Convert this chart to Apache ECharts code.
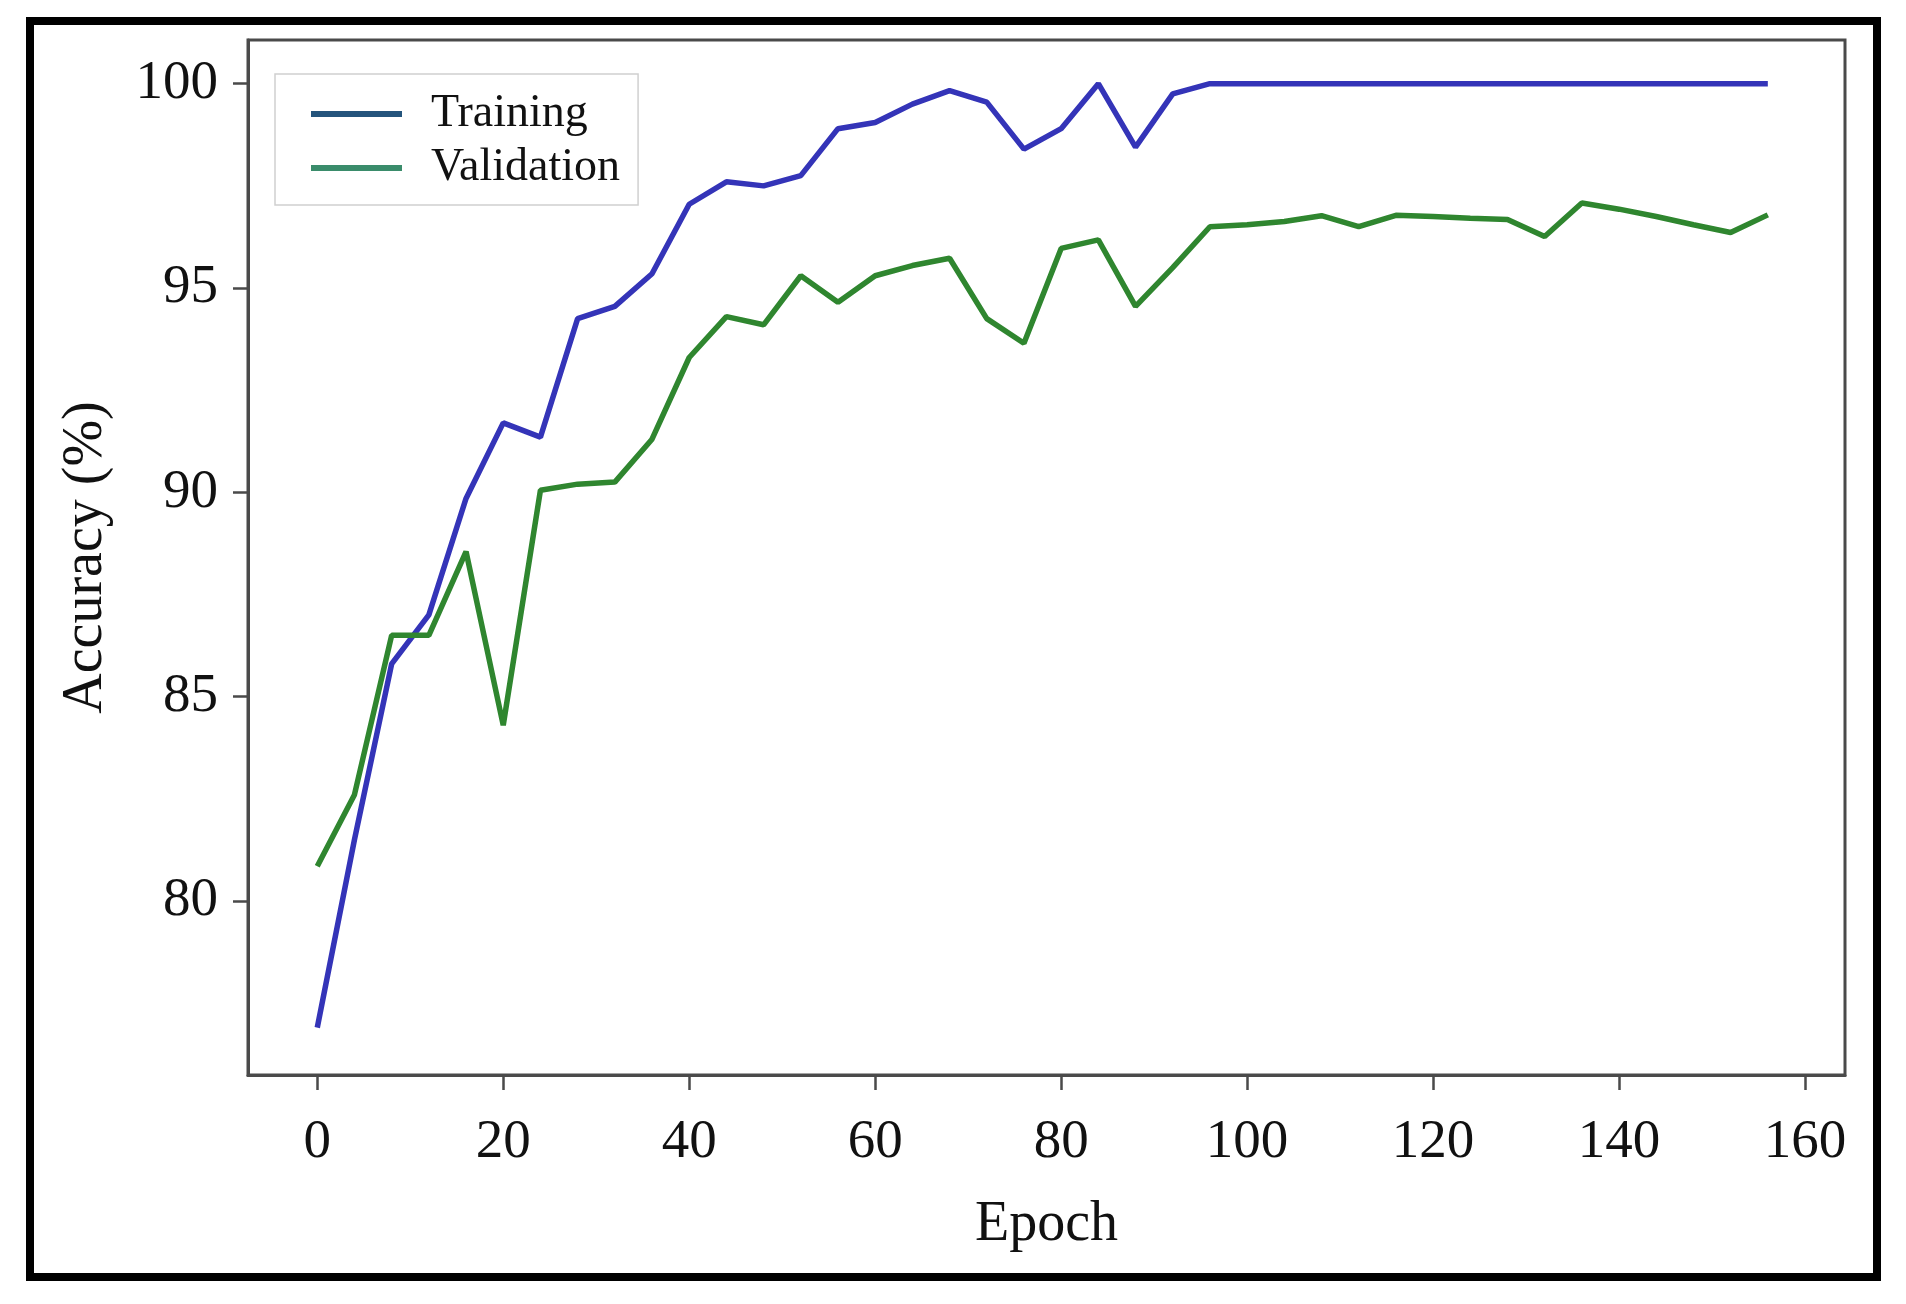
<!DOCTYPE html>
<html>
<head>
<meta charset="utf-8">
<script src="https://cdn.jsdelivr.net/npm/echarts@6/dist/echarts.min.js"></script>
<style>
  html, body { margin: 0; padding: 0; background: #fff; }
  #chart { width: 1906px; height: 1304px; }
</style>
</head>
<body>
<div id="chart"></div>
<script>
// epochs are logged every 4
const epochs = [0, 4, 8, 12, 16, 20, 24, 28, 32, 36, 40, 44, 48, 52, 56, 60, 64, 68, 72, 76,
  80, 84, 88, 92, 96, 100, 104, 108, 112, 116, 120, 124, 128, 132, 136, 140, 144, 148, 152, 156];

const trainingAcc = [76.9, 81.5, 85.8, 87.0, 89.85, 91.7, 91.35, 94.25, 94.55, 95.35,
  97.05, 97.6, 97.5, 97.75, 98.9, 99.05, 99.5, 99.83, 99.55, 98.4,
  98.9, 100, 98.45, 99.75, 100, 100, 100, 100, 100, 100,
  100, 100, 100, 100, 100, 100, 100, 100, 100, 100];

const validationAcc = [80.85, 82.6, 86.5, 86.5, 88.55, 84.3, 90.05, 90.2, 90.25, 91.3,
  93.3, 94.3, 94.1, 95.3, 94.65, 95.3, 95.55, 95.73, 94.25, 93.65,
  95.97, 96.18, 94.55, 95.5, 96.5, 96.55, 96.63, 96.77, 96.5, 96.78,
  96.75, 96.71, 96.68, 96.26, 97.08, 96.93, 96.75, 96.55, 96.36, 96.79];

const xTicks = [0, 20, 40, 60, 80, 100, 120, 140, 160];
const yTicks = [80, 85, 90, 95, 100];

const font = 'Liberation Serif';
const axisColor = '#4a4a4a';

const chart = echarts.init(document.getElementById('chart'));

const pairs = (ys) => epochs.map((e, i) => [e, ys[i]]);

const option = {
    backgroundColor: '#fff',
    animation: false,
    grid: {
        left: 248,
        right: 61,
        top: 40,
        bottom: 229,
        show: true,
        borderColor: axisColor,
        borderWidth: 3,
        backgroundColor: 'transparent'
    },
    legend: {
        orient: 'vertical',
        left: 275,
        top: 74,
        padding: [17, 18, 14, 33],
        itemGap: 8,
        itemWidth: 91,
        itemHeight: 6,
        backgroundColor: '#fff',
        borderColor: '#d0d0d0',
        borderWidth: 1.5,
        lineStyle: { width: 6 },
        textStyle: { fontFamily: font, fontSize: 46, color: '#111', padding: [0, 0, 0, 24] },
        data: [
            { name: 'Training', itemStyle: { color: '#24547c' }, lineStyle: { color: '#24547c', width: 6 } },
            { name: 'Validation', itemStyle: { color: '#3a8c6b' }, lineStyle: { color: '#3a8c6b', width: 6 } }
        ]
    },
    xAxis: {
        type: 'value',
        min: -7.45,
        max: 164.3,
        name: 'Epoch',
        nameLocation: 'middle',
        nameGap: 122,
        nameTextStyle: { fontFamily: font, fontSize: 56, color: '#111' },
        splitLine: { show: false },
        axisLine: { show: true, onZero: false, lineStyle: { color: axisColor, width: 3 } },
        axisTick: {
            show: true,
            inside: false,
            length: 15,
            customValues: xTicks,
            lineStyle: { color: axisColor, width: 2.5 }
        },
        axisLabel: {
            customValues: xTicks,
            margin: 40,
            fontFamily: font,
            fontSize: 55,
            color: '#111'
        }
    },
    yAxis: {
        type: 'value',
        min: 75.74,
        max: 101.07,
        name: 'Accuracy (%)',
        nameLocation: 'middle',
        nameGap: 134,
        nameTextStyle: { fontFamily: font, fontSize: 56, color: '#111' },
        splitLine: { show: false },
        axisLine: { show: true, onZero: false, lineStyle: { color: axisColor, width: 3 } },
        axisTick: {
            show: true,
            inside: false,
            length: 15,
            customValues: yTicks,
            lineStyle: { color: axisColor, width: 2.5 }
        },
        axisLabel: {
            customValues: yTicks,
            margin: 30,
            fontFamily: font,
            fontSize: 55,
            color: '#111'
        }
    },
    series: [
        {
            name: 'Training',
            type: 'line',
            data: pairs(trainingAcc),
            symbol: 'none',
            itemStyle: { color: '#3434b8' },
            lineStyle: { color: '#3434b8', width: 5.5 }
        },
        {
            name: 'Validation',
            type: 'line',
            data: pairs(validationAcc),
            symbol: 'none',
            itemStyle: { color: '#2f862f' },
            lineStyle: { color: '#2f862f', width: 5.5 }
        }
    ],
    // thick black frame around the whole figure
    graphic: [
        {
            type: 'rect',
            silent: true,
            shape: { x: 30, y: 21, width: 1847, height: 1256 },
            style: { fill: null, stroke: '#000', lineWidth: 8 }
        }
    ]
};

chart.setOption(option);
</script>
</body>
</html>
